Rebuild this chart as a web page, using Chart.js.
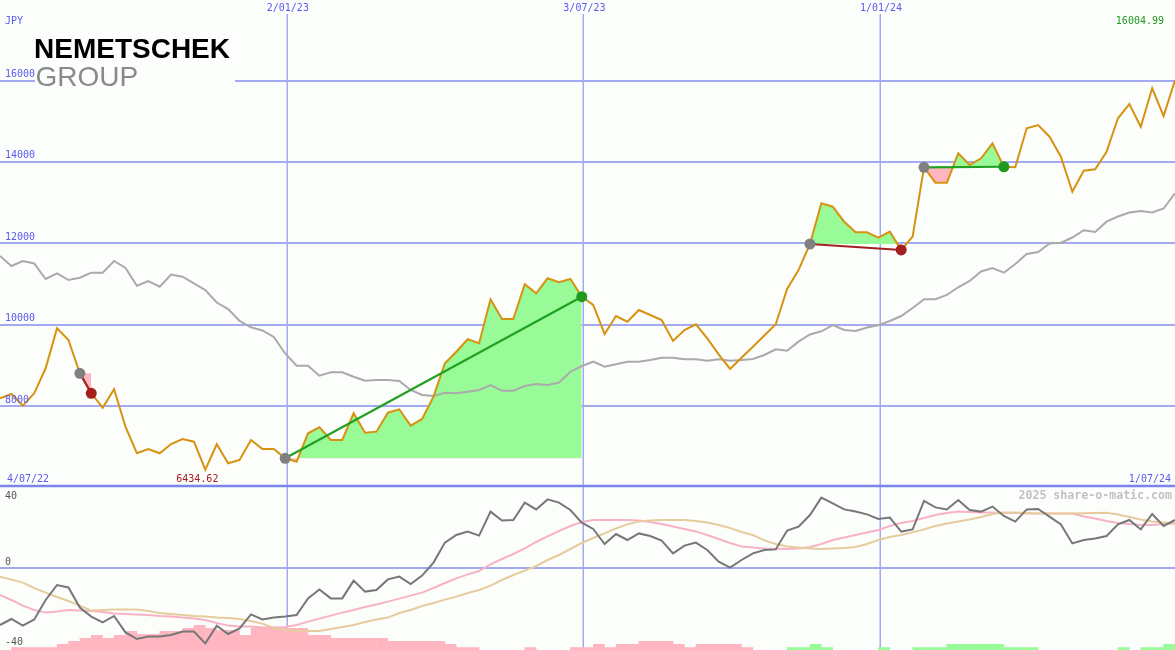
<!DOCTYPE html>
<html><head><meta charset="utf-8">
<script src="https://cdn.jsdelivr.net/npm/chart.js@4.4.1/dist/chart.umd.min.js"></script>
<style>html,body{margin:0;padding:0;background:#fcfefc;}canvas{display:block;}</style>
</head><body>
<canvas id="c" width="1175" height="650"></canvas>
<script>
// ---- data ----
const firstWeek = '2022-07-10';
const currency = 'JPY';
const companyName = 'NEMETSCHEK';
const companySub = 'GROUP';
const rangeLabels = ['4/07/22', '1/07/24'];
const dateTicks = ['2023-01-02', '2023-07-03', '2024-01-01'];
const dateTickLabels = ['2/01/23', '3/07/23', '1/01/24'];
const priceTicks = [8000, 10000, 12000, 14000, 16000];
const lowerTicks = [40, 0, -40];
const watermark = '2025 share-o-matic.com';

const price = [8188, 8294, 8007, 8311, 8926, 9909, 9622, 8803, 8311, 7957,
  8410, 7490, 6836, 6942, 6836, 7065, 7188, 7122, 6434.62, 7058,
  6591, 6672, 7164, 6942, 6942, 6714, 6630, 7328, 7476, 7163,
  7163, 7820, 7343, 7368, 7835, 7918, 7515, 7680, 8228, 9049,
  9334, 9639, 9540, 10622, 10138, 10138, 10991, 10769, 11138, 11040,
  11121, 10686, 10482, 9769, 10211, 10071, 10359, 10236, 10113, 9597,
  9867, 10007, 9663, 9270, 8909, 9184, 9457, 9732, 10007, 10875,
  11340, 11981, 12982, 12898, 12529, 12269, 12269, 12136, 12284, 11834,
  12161, 13866, 13488, 13488, 14211, 13923, 14088, 14456, 13880, 13866,
  14825, 14906, 14619, 14127, 13267, 13783, 13817, 14250, 15071, 15422,
  14864, 15808, 15127, 16004.99];

const movingAvg = [11686, 11440, 11563, 11502, 11121, 11261, 11096, 11153, 11276, 11276,
  11563, 11391, 10956, 11072, 10932, 11231, 11177, 11015, 10850, 10543,
  10383, 10089, 9934, 9855, 9695, 9290, 8990, 8990, 8744, 8828,
  8828, 8719, 8621, 8638, 8638, 8614, 8392, 8270, 8245, 8326,
  8310, 8351, 8392, 8515, 8375, 8375, 8491, 8540, 8515, 8572,
  8842, 8982, 9088, 8965, 9024, 9088, 9088, 9130, 9186, 9186,
  9147, 9147, 9113, 9147, 9113, 9130, 9155, 9253, 9393, 9359,
  9580, 9757, 9835, 9990, 9867, 9843, 9929, 9983, 10089, 10211,
  10408, 10622, 10622, 10728, 10917, 11072, 11305, 11391, 11276, 11490,
  11735, 11785, 11993, 12013, 12141, 12320, 12276, 12529, 12657, 12755,
  12792, 12755, 12854, 13227];

const momentum = [-28.5, -25.5, -28.8, -25.7, -16, -8.5, -9.7, -19.8, -24.3, -27.2,
  -24, -32.2, -35.5, -34.3, -34.3, -33.5, -31.8, -31.8, -37.7, -28.8,
  -33, -30.2, -23.2, -25.7, -24.7, -24.3, -23.5, -15.2, -10.7, -15.2,
  -15.2, -6.3, -11.8, -11, -5.7, -4.3, -8, -3.8, 2.7, 12.7,
  16.5, 18.2, 16.2, 28.2, 23.7, 24, 32.7, 29.3, 34.3, 32.7,
  29, 22.7, 19.5, 12, 17, 14, 17.3, 16, 13.7, 7.3,
  11.2, 12.7, 9, 3.2, 0.2, 4, 7.3, 9, 9.3, 18.7,
  20.7, 26.5, 35.2, 32.3, 29.3, 28.2, 26.8, 24.5, 25.2, 18.2,
  19.3, 33.5, 30.3, 29.3, 34, 29, 28.2, 30.7, 26, 23.2,
  29.3, 29.5, 25.7, 21.8, 12.3, 14, 14.8, 16, 21.8, 24,
  19.3, 27, 21, 24];

const fastAvg = [-13.5, -16, -18.8, -21, -22.3, -21.8, -21, -21.3, -21.5, -22,
  -22.7, -23, -23.2, -23.5, -24, -24.3, -24.7, -25.3, -26, -27.5,
  -28.8, -29.2, -29.3, -29.7, -29.8, -29.5, -28.5, -26.8, -25.3, -23.8,
  -22.3, -21, -19.5, -18.2, -16.8, -15.3, -13.8, -12.3, -10, -7.5,
  -5.2, -3.2, -1.5, 1.8, 4.5, 7, 9.8, 13, 15.8, 18.5,
  21, 23, 24, 24, 24, 24, 23.7, 23, 22, 20.8,
  19.5, 18.3, 16.5, 14.5, 12.5, 10.8, 10.3, 9.8, 9.6, 9.5,
  9.8, 10.5, 12, 14, 15.3, 16.5, 17.8, 19, 21, 22.5,
  23.5, 25, 26.5, 27.5, 28.2, 28, 27.8, 27.7, 27.5, 27.5,
  27.3, 27.3, 27.3, 27.3, 27.2, 25.8, 24.8, 23.5, 22.5, 22,
  21.5, 21.5, 22, 22.3];

const slowAvg = [-4.3, -5.8, -7.3, -10, -12.3, -14.5, -16.5, -18.8, -21.3, -21,
  -20.8, -20.7, -20.8, -21.5, -22.5, -23, -23.5, -24, -24.3, -24.8,
  -25, -25.5, -26.5, -27.8, -30, -31, -31.3, -31.5, -31.5, -30.5,
  -29.5, -28.5, -27, -25.8, -24.8, -22.5, -21, -19, -17.5, -15.8,
  -14.3, -12.5, -11, -8.8, -6, -3.5, -1.3, 1, 4, 6.5,
  9.5, 12.5, 15, 17.3, 19.8, 21.8, 23.3, 23.8, 24, 24,
  24, 23.5, 22.8, 21.5, 20, 18, 16.5, 13.8, 12, 10.8,
  10.2, 9.8, 9.5, 9.7, 10, 10.5, 12, 14, 15.5, 16.5,
  17.8, 19.3, 21, 22.3, 23.3, 24.3, 25.5, 27, 27.8, 27.8,
  27.5, 27.3, 27.3, 27.3, 27.3, 27.4, 27.5, 27.6, 26.8, 25.5,
  24.3, 23.3, 22.8, 22.3];

// weekly histogram, one bar between consecutive weeks (negative = pink, positive = green)
const histogram = [0, -1.4, -1.4, -1.4, -1.4, -3, -4.5, -6, -7.5, -6,
  -7.5, -9.5, -8, -8, -9.5, -9.5, -11, -12.5, -11, -10,
  -10, -7.5, -11, -11, -11, -11, -11, -7.5, -7.5, -6,
  -6, -6, -6, -6, -4.5, -4.5, -4.5, -4.5, -4.5, -3,
  -1.4, -1.4, 0, 0, 0, 0, -1.4, 0, 0, 0,
  -1.4, -1.4, -3, -1.4, -3, -3, -4.5, -4.5, -4.5, -3,
  -1.4, -3, -3, -3, -3, -1.4, 0, 0, 0, 1.4,
  1.4, 3, 1.4, 0, 0, 0, 0, 1.4, 0, 0,
  1.4, 1.4, 1.4, 3, 3, 3, 3, 3, 1.4, 1.4,
  1.4, 0, 0, 0, 0, 0, 0, 0, 1.4, 0,
  1.4, 1.4, 3];

// trades: week index of entry and exit
const tradeEntries = [7, 25, 71, 81];
const tradeExits = [8, 51, 79, 88];

// ---- colours ----
const C = {
  bg: '#fcfefc', grid: '#a3aaf2', sep: '#7b84ea', axisText: '#5a5aee', lowText: '#555555',
  price: '#d69210', avg: '#aaaaaa', mom: '#777777', fast: '#f8b2c6', slow: '#e6cc9c',
  up: '#98fb98', down: '#ffb6c1', entry: '#808080', win: '#1f9a1f', loss: '#a51d1d',
  winLine: '#22a022', lossLine: '#a52020'
};

// ---- build ----
const toDay = s => Date.UTC(+s.slice(0, 4), +s.slice(5, 7) - 1, +s.slice(8, 10)) / 864e5;
const day0 = toDay(firstWeek);
const weekX = price.map((_, i) => day0 + 7 * i);
const series = arr => arr.map((v, i) => ({x: weekX[i], y: v}));
const lowMin = -41;

const datasets = [];
// markers
const markerPts = [], markerCols = [];
tradeEntries.forEach((e, t) => {
  const x = tradeExits[t];
  markerPts.push({x: weekX[e], y: price[e]}); markerCols.push(C.entry);
  markerPts.push({x: weekX[x], y: price[x]}); markerCols.push(price[x] >= price[e] ? C.win : C.loss);
});
datasets.push({type: 'line', data: markerPts, showLine: false, pointRadius: 5.5, pointBorderWidth: 0,
  pointBackgroundColor: markerCols, pointBorderColor: markerCols, yAxisID: 'yMain', order: 0});
// connecting lines
tradeEntries.forEach((e, t) => {
  const x = tradeExits[t];
  datasets.push({type: 'line', data: [{x: weekX[e], y: price[e]}, {x: weekX[x], y: price[x]}],
    borderColor: price[x] >= price[e] ? C.winLine : C.lossLine, borderWidth: 2.2, pointRadius: 0,
    fill: false, yAxisID: 'yMain', order: 1});
});
// price
datasets.push({type: 'line', data: series(price), borderColor: C.price, borderWidth: 2, pointRadius: 0,
  tension: 0, fill: false, yAxisID: 'yMain', order: 2});
// moving average
datasets.push({type: 'line', data: series(movingAvg), borderColor: C.avg, borderWidth: 2, pointRadius: 0,
  tension: 0, fill: false, yAxisID: 'yMain', order: 3});
// trade fills
tradeEntries.forEach((e, t) => {
  const x = tradeExits[t];
  const pts = [];
  for (let k = e; k <= x; k++) pts.push({x: weekX[k], y: price[k]});
  datasets.push({type: 'line', data: pts, borderColor: 'rgba(0,0,0,0)', borderWidth: 0, pointRadius: 0,
    tension: 0, fill: {target: {value: price[e]}, above: C.up, below: C.down}, yAxisID: 'yMain', order: 4});
});
// lower panel
datasets.push({type: 'line', data: series(momentum), borderColor: C.mom, borderWidth: 2, pointRadius: 0,
  tension: 0, fill: false, yAxisID: 'yLow', order: 2});
datasets.push({type: 'line', data: series(slowAvg), borderColor: C.slow, borderWidth: 2, pointRadius: 0,
  tension: 0, fill: false, yAxisID: 'yLow', order: 3});
datasets.push({type: 'line', data: series(fastAvg), borderColor: C.fast, borderWidth: 2, pointRadius: 0,
  tension: 0, fill: false, yAxisID: 'yLow', order: 4});
datasets.push({type: 'bar', data: histogram.map((v, j) => ({x: weekX[j] + 3.5, y: [lowMin, lowMin + Math.abs(v)]})),
  backgroundColor: histogram.map(v => v < 0 ? C.down : C.up), borderWidth: 0,
  barPercentage: 1.04, categoryPercentage: 1, yAxisID: 'yLow', order: 6});

const px = (s, v) => s.getPixelForValue(v);

const framePlugin = {
  id: 'frame',
  beforeDraw(chart) {
    const ctx = chart.ctx;
    ctx.save(); ctx.fillStyle = C.bg; ctx.fillRect(0, 0, chart.width, chart.height); ctx.restore();
  },
  beforeDatasetsDraw(chart) {
    const ctx = chart.ctx, sx = chart.scales.x, ym = chart.scales.yMain, yl = chart.scales.yLow;
    const W = chart.width, H = chart.height;
    ctx.save();
    ctx.lineWidth = 2; ctx.strokeStyle = C.grid;
    priceTicks.forEach(v => { const y = Math.round(px(ym, v)); ctx.beginPath(); ctx.moveTo(0, y); ctx.lineTo(W, y); ctx.stroke(); });
    const y0 = Math.round(px(yl, 0)); ctx.beginPath(); ctx.moveTo(0, y0); ctx.lineTo(W, y0); ctx.stroke();
    ctx.lineWidth = 1.5;
    dateTicks.forEach(d => { const x = Math.round(px(sx, toDay(d))) + 0.25; ctx.beginPath(); ctx.moveTo(x, 14); ctx.lineTo(x, H); ctx.stroke(); });
    ctx.strokeStyle = C.sep; ctx.lineWidth = 2.5;
    const ys = Math.round(px(ym, 6000)) - 1; ctx.beginPath(); ctx.moveTo(0, ys); ctx.lineTo(W, ys); ctx.stroke();
    ctx.restore();
  },
  afterDraw(chart) {
    const ctx = chart.ctx, sx = chart.scales.x, ym = chart.scales.yMain, yl = chart.scales.yLow;
    const W = chart.width;
    ctx.save();
    ctx.font = '10px "DejaVu Sans Mono"';
    ctx.textBaseline = 'middle';
    ctx.fillStyle = C.axisText; ctx.textAlign = 'left';
    ctx.fillText(currency, 5, 21.5);
    priceTicks.forEach(v => ctx.fillText(String(v), 5, px(ym, v) - 6));
    ctx.textAlign = 'center';
    dateTicks.forEach((d, i) => ctx.fillText(dateTickLabels[i], px(sx, toDay(d)) + 1, 8.5));
    const yBottom = px(ym, 6000) - 8;
    ctx.textAlign = 'left'; ctx.fillText(rangeLabels[0], 7, yBottom);
    ctx.textAlign = 'right'; ctx.fillText(rangeLabels[1], W - 4, yBottom);
    // extreme values
    let iMin = 0; price.forEach((v, i) => { if (v < price[iMin]) iMin = i; });
    ctx.textAlign = 'center'; ctx.fillStyle = C.loss;
    ctx.fillText(price[iMin].toFixed(2), px(sx, weekX[iMin]) - 8, yBottom);
    ctx.textAlign = 'right'; ctx.fillStyle = C.win;
    ctx.fillText(price[price.length - 1].toFixed(2), W - 11, 21);
    // lower labels
    ctx.textAlign = 'left'; ctx.fillStyle = C.lowText;
    lowerTicks.forEach((v, i) => ctx.fillText(String(v), 5, i === 0 ? px(yl, v) + 8 : px(yl, v) - 6));
    ctx.textAlign = 'right'; ctx.fillStyle = '#c2c2c2'; ctx.font = 'bold 11.6px "DejaVu Sans Mono"';
    ctx.fillText(watermark, W - 3, 496);
    // logo
    ctx.fillStyle = C.bg; ctx.fillRect(35, 28, 200, 64);
    ctx.textBaseline = 'alphabetic'; ctx.textAlign = 'left';
    ctx.fillStyle = '#000000'; ctx.font = 'bold 28px "Liberation Sans"';
    ctx.fillText(companyName, 34, 57.5);
    ctx.fillStyle = '#8a8a8a'; ctx.font = '28px "Liberation Sans"';
    ctx.fillText(companySub, 35.5, 85.5);
    ctx.restore();
  }
};

new Chart(document.getElementById('c'), {
  type: 'line',
  data: {datasets},
  options: {
    responsive: false, animation: false, events: [], devicePixelRatio: 1,
    layout: {padding: 0, autoPadding: false},
    plugins: {legend: {display: false}, tooltip: {enabled: false}, filler: {propagate: false}},
    scales: {
      x: {type: 'linear', min: day0, max: day0 + 7 * (price.length - 1), display: false, offset: false},
      yMain: {type: 'linear', min: 2001, max: 17979, display: false, beginAtZero: false},
      yLow: {type: 'linear', min: lowMin, max: 284, display: false, beginAtZero: false}
    }
  },
  plugins: [framePlugin]
});
</script>
</body></html>
